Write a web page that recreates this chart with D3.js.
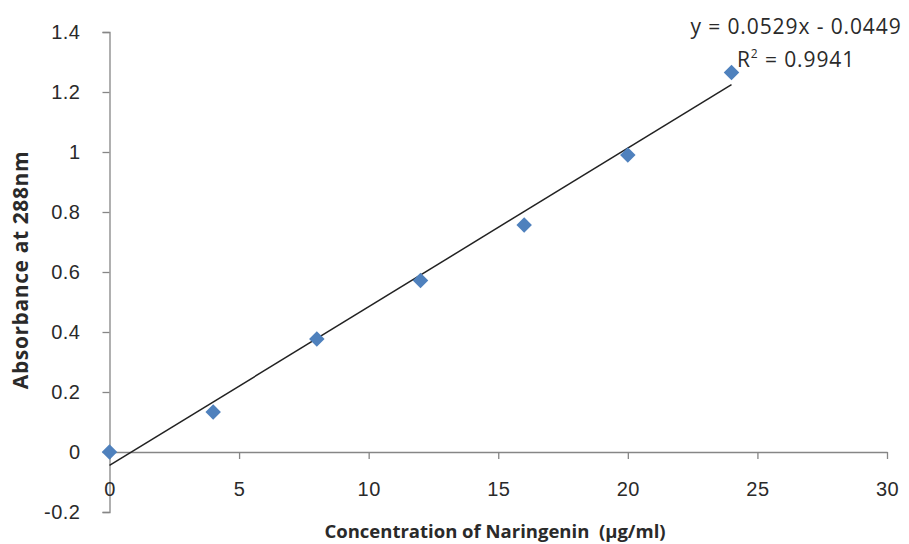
<!DOCTYPE html>
<html><head><meta charset="utf-8">
<script src="https://cdn.jsdelivr.net/npm/d3@7"></script>
<style>body{margin:0;background:#fff;}svg{display:block;font-family:"Open Sans","Liberation Sans",sans-serif;}</style>
</head><body>
<svg id="c" width="909" height="544"></svg>
<script>
const concentrations = [0, 4, 8, 12, 16, 20, 24];
const absorbance = [0, 0.133, 0.377, 0.572, 0.757, 0.99, 1.265];
const xTicks = [0, 5, 10, 15, 20, 25, 30];
const yTicks = [-0.2, 0, 0.2, 0.4, 0.6, 0.8, 1, 1.2, 1.4];
const slope = 0.0529, intercept = -0.0449;
const eqText = "y = 0.0529x - 0.0449";
const r2Text = "0.9941";

const svg = d3.select("#c");
const x = d3.scaleLinear().domain([0, 30]).range([109.5, 887]);
const y = d3.scaleLinear().domain([-0.2, 1.4]).range([512, 32]);
const axisCol = "#868686";
const txtCol = "#2a2a2a";

// y axis
const ya = svg.append("g").attr("transform", `translate(${x(0)},0)`)
  .call(d3.axisLeft(y).tickValues(yTicks).tickSize(7).tickPadding(22));
ya.select(".domain").attr("stroke", axisCol).attr("stroke-width", 1.3);
ya.selectAll(".tick line").attr("stroke", axisCol).attr("stroke-width", 1.3);
ya.selectAll(".tick text").attr("font-size", 20).attr("fill", txtCol).attr("letter-spacing", 0.5)
  .text(d => d < 0 ? "-" + Math.abs(d) : String(+d.toFixed(1)));

// x axis at y=0
const xa = svg.append("g").attr("transform", `translate(0,${y(0)})`)
  .call(d3.axisBottom(x).tickValues(xTicks).tickSize(7).tickPadding(0).tickSizeOuter(0));
xa.select(".domain").attr("stroke", axisCol).attr("stroke-width", 1.3);
xa.selectAll(".tick line").attr("stroke", axisCol).attr("stroke-width", 1.3);
xa.selectAll(".tick text").attr("font-size", 20).attr("fill", txtCol).attr("letter-spacing", 0.5)
  .attr("dy", 0).attr("y", 44);

// trendline
svg.append("line")
  .attr("x1", x(concentrations[0])).attr("y1", y(slope * concentrations[0] + intercept))
  .attr("x2", x(concentrations[concentrations.length - 1])).attr("y2", y(slope * concentrations[concentrations.length - 1] + intercept))
  .attr("stroke", "#222").attr("stroke-width", 1.5);

// points
const diamond = d3.symbol().type(d3.symbolSquare).size(120);
svg.append("g").selectAll("path").data(concentrations).join("path")
  .attr("d", diamond)
  .attr("transform", (d, i) => `translate(${x(d)},${y(absorbance[i])}) rotate(45)`)
  .attr("fill", "#4F81BD");

// equation
svg.append("text").attr("x", 796).attr("y", 34).attr("text-anchor", "middle")
  .attr("font-size", 21).attr("letter-spacing", 0.9).attr("fill", txtCol).text(eqText);
const r2 = svg.append("text").attr("x", 796).attr("y", 67).attr("text-anchor", "middle")
  .attr("font-size", 21).attr("letter-spacing", 0.9).attr("fill", txtCol);
r2.append("tspan").text("R");
r2.append("tspan").attr("font-size", 12).attr("dy", -9).text("2");
r2.append("tspan").attr("dy", 9).text(" = " + r2Text);

// axis titles
svg.append("text").attr("transform", `translate(28,${(y(-0.2)+y(1.4))/2 - 2}) rotate(-90)`)
  .attr("text-anchor", "middle").attr("font-size", 21).attr("letter-spacing", 0.6).attr("font-weight", "bold").attr("fill", txtCol)
  .text("Absorbance at 288nm");
svg.append("text").attr("x", 495).attr("y", 538).attr("text-anchor", "middle")
  .attr("font-size", 18.5).attr("font-weight", "bold").attr("fill", txtCol)
  .attr("xml:space", "preserve").style("white-space", "pre")
  .text("Concentration of Naringenin  (μg/ml)");
</script>
</body></html>
